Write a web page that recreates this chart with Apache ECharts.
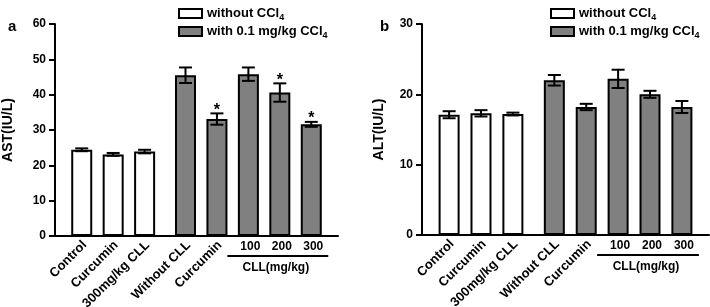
<!DOCTYPE html>
<html>
<head>
<meta charset="utf-8">
<script src="https://cdn.jsdelivr.net/npm/echarts@6/dist/echarts.min.js"></script>
<style>
html,body{margin:0;padding:0;background:#fff;}
#chart{width:710px;height:307px;}
</style>
</head>
<body>
<div id="chart"></div>
<script>
// groups on the x axis
var categories = ["Control", "Curcumin", "300mg/kg CLL", "Without CLL", "Curcumin", "100", "200", "300"];
var slots = [1, 2, 3, 4.3, 5.3, 6.3, 7.3, 8.3];
var doseTitle = "CLL(mg/kg)";
var legendNames = ["without CCl4", "with 0.1 mg/kg CCl4"];
// AST panel (a)
var astMean = [24.4, 23.1, 23.9, 45.5, 33.1, 45.8, 40.6, 31.6];
var astErr = [0.4, 0.4, 0.5, 2.2, 1.6, 1.9, 2.6, 0.7];
var astSig = ["", "", "", "", "*", "", "*", "*"];
// ALT panel (b)
var altMean = [17.1, 17.3, 17.2, 22.0, 18.2, 22.2, 20.0, 18.2];
var altErr = [0.5, 0.45, 0.2, 0.75, 0.45, 1.3, 0.5, 0.85];
var altSig = ["", "", "", "", "", "", "", ""];

var font_family = "'Liberation Sans', Arial, sans-serif";

//拆分 without / with 两组柱子
function bar_data(mean, from, to){
	var arr = [];
	for(var i = from; i < to; i++){
		arr.push([slots[i], mean[i]]);
	}
	return arr;
}
function err_data(mean, err, sig){
	var arr = [];
	for(var i = 0; i < mean.length; i++){
		arr.push([slots[i], mean[i], err[i], sig[i]]);
	}
	return arr;
}
function label_data(){
	var arr = [];
	for(var i = 0; i < slots.length; i++){
		arr.push([slots[i], 0, i]);
	}
	return arr;
}
//误差线
function render_err(params, api){
	var x = api.value(0), m = api.value(1), e = api.value(2);
	var top = api.coord([x, m + e]);
	var bot = api.coord([x, m - e]);
	var cw = 6.5;
	var lst = {stroke: "#000", lineWidth: 2};
	var children = [
		{type: "line", shape: {x1: top[0], y1: top[1], x2: bot[0], y2: bot[1]}, style: lst},
		{type: "line", shape: {x1: top[0] - cw, y1: top[1], x2: top[0] + cw, y2: top[1]}, style: lst},
		{type: "line", shape: {x1: bot[0] - cw, y1: bot[1], x2: bot[0] + cw, y2: bot[1]}, style: lst}
	];
	var s = params.seriesIndex === 2 ? astSig[params.dataIndex] : altSig[params.dataIndex];
	if(s){
		children.push({type: "text", x: top[0], y: top[1] - 3, style: {
			text: s, align: "center", verticalAlign: "middle", textAlign: "center", textVerticalAlign: "middle",
			font: "bold 16px " + font_family, fill: "#000"}});
	}
	return {type: "group", children: children};
}
//x轴标签
function render_label(params, api){
	var i = params.dataIndex;
	var p = api.coord([api.value(0), 0]);
	var children = [];
	if(i < 5){
		children.push({type: "text", x: p[0] + 3, y: p[1] + 7, rotation: Math.PI / 4, style: {
			text: categories[i], align: "right", verticalAlign: "middle", textAlign: "right", textVerticalAlign: "middle",
			font: "bold 13px " + font_family, fill: "#000"}});
	} else {
		children.push({type: "text", x: p[0] + 2, y: p[1] + 11, style: {
			text: categories[i], align: "center", verticalAlign: "middle", textAlign: "center", textVerticalAlign: "middle",
			font: "bold 12px " + font_family, fill: "#000"}});
	}
	if(i === 7){
		var a = api.coord([slots[5], 0]);
		children.push({type: "line", shape: {x1: a[0] - 21, y1: p[1] + 20, x2: p[0] + 17, y2: p[1] + 20},
			style: {stroke: "#000", lineWidth: 2}});
		children.push({type: "text", x: (a[0] - 21 + p[0] + 17) / 2 - 2, y: p[1] + 32, style: {
			text: doseTitle, align: "center", verticalAlign: "middle", textAlign: "center", textVerticalAlign: "middle",
			font: "bold 12px " + font_family, fill: "#000"}});
	}
	return {type: "group", children: children};
}
function y_axis(idx, max, name, gap){
	return {
		type: "value", gridIndex: idx, min: 0, max: max, interval: 10,
		name: name, nameLocation: "middle", nameGap: gap, nameRotate: 90,
		nameTextStyle: {color: "#000", fontWeight: "bold", fontSize: 14, fontFamily: font_family},
		axisLine: {show: true, lineStyle: {color: "#000", width: 2}},
		axisTick: {show: true, length: 6, lineStyle: {color: "#000", width: 2}},
		axisLabel: {color: "#000", fontWeight: "bold", fontSize: 12, fontFamily: font_family, margin: 9},
		splitLine: {show: false}
	};
}
function x_axis(idx){
	return {
		type: "value", gridIndex: idx, min: 0.15, max: 9.15,
		axisLine: {show: true, onZero: false, lineStyle: {color: "#000", width: 2}},
		axisTick: {show: false}, axisLabel: {show: false}, splitLine: {show: false}
	};
}
function legend_cfg(left){
	return {
		left: left, top: 2, orient: "vertical", itemWidth: 23, itemHeight: 9, itemGap: 3,
		icon: "rect", itemStyle: {borderWidth: 2, borderColor: "#000"},
		textStyle: {color: "#000", fontWeight: "bold", fontSize: 13, fontFamily: font_family,
			rich: {sub: {fontSize: 9, fontWeight: "bold", verticalAlign: "bottom", padding: [8, 0, 0, 0], fontFamily: font_family}}},
		formatter: function(name){ return name.replace(/4$/, "{sub|4}"); },
		data: legendNames
	};
}
function bar_series(idx, mean, name, color, from, to){
	return {
		name: name, type: "bar", xAxisIndex: idx, yAxisIndex: idx, barWidth: 21, barGap: "-100%",
		itemStyle: {color: color, borderColor: "#000", borderWidth: 2},
		data: bar_data(mean, from, to), z: 2
	};
}

var chart = echarts.init(document.getElementById("chart"), null, {renderer: "canvas"});
var option = {
	animation: false,
	backgroundColor: "#fff",
	title: [
		{text: "a", left: 3, top: 14, textStyle: {color: "#000", fontWeight: "bold", fontSize: 15, fontFamily: font_family}},
		{text: "b", left: 375, top: 14, textStyle: {color: "#000", fontWeight: "bold", fontSize: 15, fontFamily: font_family}}
	],
	legend: [legend_cfg(173), legend_cfg(545)],
	grid: [
		{left: 50, top: 24, width: 288, height: 212},
		{left: 422, top: 24, width: 287, height: 211}
	],
	xAxis: [x_axis(0), x_axis(1)],
	yAxis: [y_axis(0, 60, "AST(IU/L)", 40), y_axis(1, 30, "ALT(IU/L)", 36)],
	series: [
		bar_series(0, astMean, legendNames[0], "#fff", 0, 3),
		bar_series(0, astMean, legendNames[1], "#808080", 3, 8),
		{type: "custom", xAxisIndex: 0, yAxisIndex: 0, renderItem: render_err, data: err_data(astMean, astErr, astSig), z: 5},
		bar_series(1, altMean, legendNames[0], "#fff", 0, 3),
		bar_series(1, altMean, legendNames[1], "#808080", 3, 8),
		{type: "custom", xAxisIndex: 1, yAxisIndex: 1, renderItem: render_err, data: err_data(altMean, altErr, altSig), z: 5},
		{type: "custom", xAxisIndex: 0, yAxisIndex: 0, renderItem: render_label, data: label_data(), z: 5},
		{type: "custom", xAxisIndex: 1, yAxisIndex: 1, renderItem: render_label, data: label_data(), z: 5}
	]
};
chart.setOption(option, true);
</script>
</body>
</html>
